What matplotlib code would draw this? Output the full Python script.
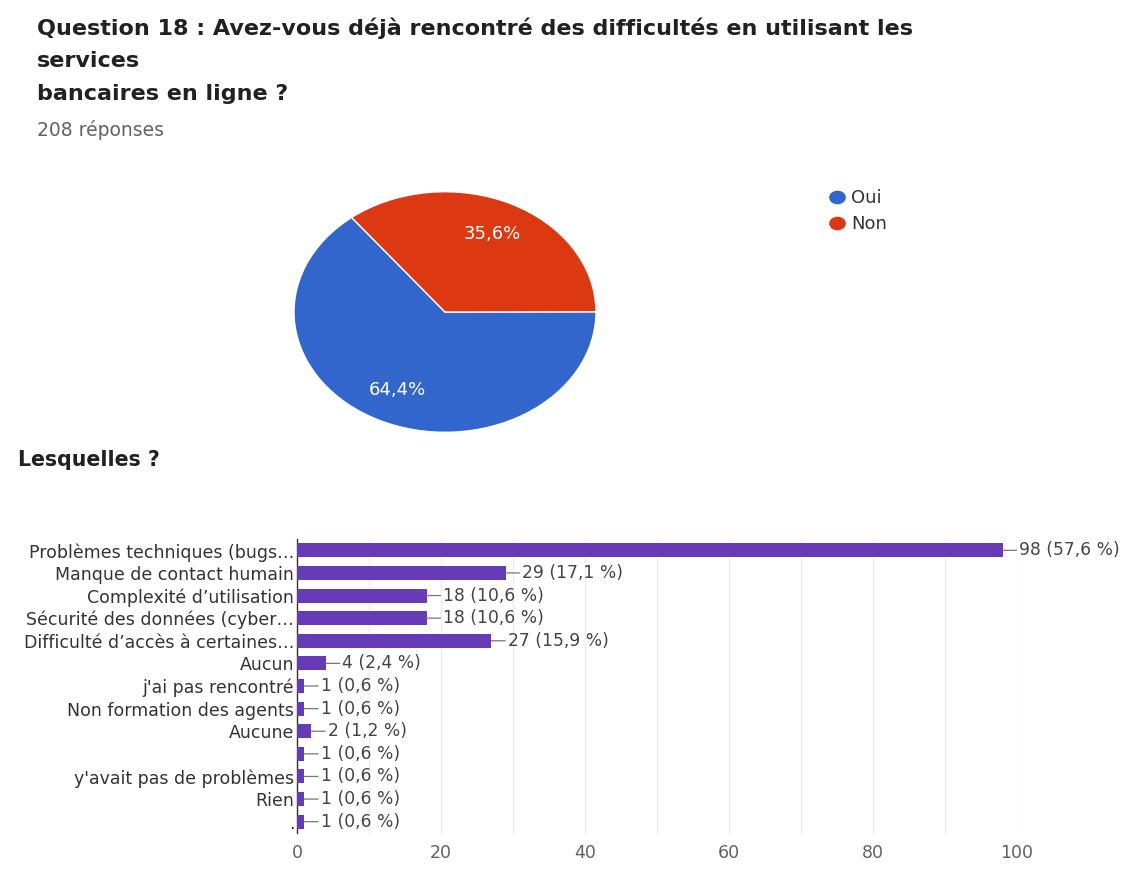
import matplotlib
matplotlib.use('Agg')
import matplotlib.pyplot as plt
from matplotlib.lines import Line2D
from matplotlib.path import Path
from matplotlib.transforms import Affine2D

# Survey answers
pie_labels = ['Oui', 'Non']
pie_counts = [134, 74]
total_responses = 208

bar_labels = [
    'Problèmes techniques (bugs…',
    'Manque de contact humain',
    'Complexité d\u2019utilisation',
    'Sécurité des données (cyber…',
    'Difficulté d\u2019accès à certaines…',
    'Aucun',
    'j\'ai pas rencontré',
    'Non formation des agents',
    'Aucune',
    '',
    'y\'avait pas de problèmes',
    'Rien',
    '.',
]
bar_counts = [98, 29, 18, 18, 27, 4, 1, 1, 2, 1, 1, 1, 1]
bar_respondents = 170

BLUE = '#3366CC'
RED = '#DC3912'
PURPLE = '#673AB7'
TEXT = '#202124'
GREY = '#5f6368'
FONT = 'DejaVu Sans'

W, H = 1127, 889
fig = plt.figure(figsize=(W / 100, H / 100), dpi=100)
fig.patch.set_facecolor('white')


def fx(px):
    return px / W


def fy(py):
    return 1 - py / H


# Header
title_kw = dict(fontsize=16, fontweight='bold', color=TEXT, family=FONT, va='center')
fig.text(fx(37), fy(28), 'Question 18 : Avez-vous déjà rencontré des difficultés en utilisant les', **title_kw)
fig.text(fx(37), fy(61), 'services', **title_kw)
fig.text(fx(37), fy(94), 'bancaires en ligne ?', **title_kw)
fig.text(fx(37), fy(130), f'{total_responses} réponses', fontsize=13.5, color=GREY,
         family=FONT, va='center')

# Pie chart (stretched wide, like the exported form summary)
cx, cy, rx, ry = 445, 312, 152.5, 121.5
pax = fig.add_axes([fx(cx - rx), fy(cy + ry), 2 * rx / W, 2 * ry / H])
wedges, texts, autotexts = pax.pie(
    pie_counts, colors=[BLUE, RED], startangle=128.2, counterclock=True,
    autopct=lambda p: f'{p:.1f}%'.replace('.', ','), pctdistance=0.72,
    wedgeprops=dict(edgecolor='white', linewidth=1),
    textprops=dict(color='white', fontsize=13, family=FONT))
pax.set_aspect('auto')
pax.set_xlim(-1.01, 1.01)
pax.set_ylim(-1.01, 1.01)

oval = Path.unit_circle().transformed(Affine2D().scale(1.25, 1.0))
handles = [Line2D([], [], marker=oval, linestyle='', markersize=11, color=c)
           for c in (BLUE, RED)]
fig.legend(handles, pie_labels, loc='upper left', bbox_to_anchor=(fx(808), fy(173)),
           frameon=False, handletextpad=0.1, labelspacing=0.45, handlelength=1.4,
           prop=dict(family=FONT, size=13), labelcolor='#333333')

fig.text(fx(18), fy(460), 'Lesquelles ?', fontsize=14.8, fontweight='bold', color=TEXT,
         family=FONT, va='center')

# Bar chart
bax = fig.add_axes([fx(297), fy(833), 720 / W, (833 - 539) / H])
ypos = list(range(len(bar_labels)))
bax.barh(ypos, bar_counts, height=0.62, color=PURPLE, zorder=3)
bax.set_ylim(len(bar_labels) - 0.5, -0.5)
bax.set_xlim(0, 100)
bax.set_yticks(ypos)
bax.set_yticklabels(bar_labels, fontsize=12.5, color='#333333', family=FONT)
bax.set_xticks([0, 20, 40, 60, 80, 100])
bax.set_xticks(range(0, 101, 10), minor=True)
bax.tick_params(axis='both', which='both', length=0, pad=2)
bax.tick_params(axis='x', labelsize=12.5, labelcolor=GREY, pad=8)
for lbl in bax.get_xticklabels():
    lbl.set_family(FONT)
bax.grid(axis='x', which='both', color='#efefef', linewidth=1, zorder=0)
for side in ('top', 'right', 'bottom'):
    bax.spines[side].set_visible(False)
bax.spines['left'].set_color('#333333')
bax.spines['left'].set_linewidth(1)

for y, v in zip(ypos, bar_counts):
    pct = f'{v / bar_respondents * 100:.1f}'.replace('.', ',')
    bax.annotate(f'{v} ({pct} %)', xy=(v, y), xytext=(12, 0), textcoords='offset points',
                 va='center', ha='left', fontsize=12.3, color='#444444', family=FONT,
                 arrowprops=dict(arrowstyle='-', color='#777777', lw=0.9,
                                 shrinkA=0, shrinkB=0))

fig.savefig('out.png', dpi=100, facecolor='white')
